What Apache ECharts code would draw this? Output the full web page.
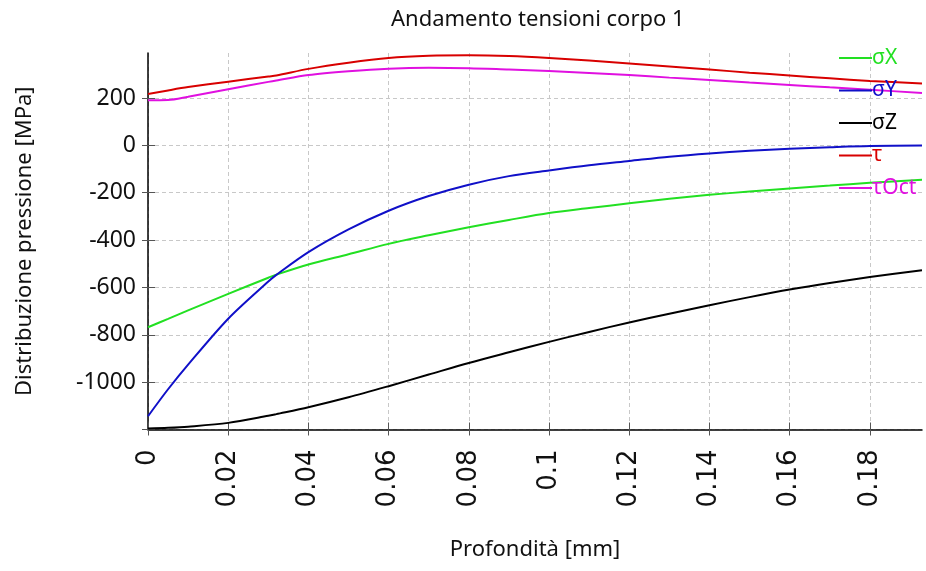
<!DOCTYPE html>
<html>
<head>
<meta charset="utf-8">
<script src="https://cdn.jsdelivr.net/npm/echarts@6/dist/echarts.min.js"></script>
<style>
html,body{margin:0;padding:0;background:#fff;}
#chart{width:926px;height:571px;}
</style>
</head>
<body>
<div id="chart"></div>
<script>
// depth [mm]
const depth = [0, 0.005, 0.01, 0.02, 0.03, 0.032, 0.04, 0.05, 0.06, 0.07, 0.08, 0.09, 0.10, 0.11, 0.12, 0.13, 0.14, 0.15, 0.16, 0.17, 0.18, 0.193];
// stresses [MPa]
const sigmaX = [-768, -733, -697, -627, -559, -546, -503, -460, -416, -380, -346, -315, -286, -265, -245, -226, -209, -195, -182, -170, -158, -145];
const sigmaY = [-1144, -1030, -926, -732, -575, -547, -451, -355, -276, -214, -166, -130, -106, -84, -66, -48, -34, -23, -14, -8, -3, -1];
const sigmaZ = [-1196, -1193, -1188, -1172, -1142, -1135, -1106, -1064, -1017, -968, -919, -874, -830, -788, -748, -711, -675, -641, -609, -581, -556, -527];
const tau    = [217, 232, 246, 269, 291, 295, 323, 349, 369, 378, 380, 377, 369, 358, 346, 333, 320, 307, 295, 283, 272, 261];
const tauOct = [190, 191, 205, 237, 268, 274, 297, 313, 324, 328, 326, 320, 314, 306, 297, 286, 276, 265, 255, 245, 235, 221];

const seriesNames = ['σX', 'σY', 'σZ', 'τ', 'τOct'];
const seriesColors = ['#22e022', '#1010c8', '#000000', '#d80000', '#e010e0'];
const seriesValues = [sigmaX, sigmaY, sigmaZ, tau, tauOct];

const xTicks = [0, 0.02, 0.04, 0.06, 0.08, 0.1, 0.12, 0.14, 0.16, 0.18];
const yTicks = [-1200, -1000, -800, -600, -400, -200, 0, 200];

const FONT = '"Noto Sans", sans-serif';
const chart = echarts.init(document.getElementById('chart'));
const gridLine = {show: true, lineStyle: {color: '#c8c8c8', type: [4, 3], width: 1}};

chart.setOption({
  animation: false,
  backgroundColor: '#fff',
  title: {
    text: 'Andamento tensioni corpo 1',
    left: 386, top: 4,
    textStyle: {fontFamily: FONT, fontSize: 22, fontWeight: 'normal', color: '#111'}
  },
  legend: {
    orient: 'vertical', left: 834, top: 42,
    icon: 'rect', itemWidth: 33, itemHeight: 2, itemGap: 10.5,
    textStyle: {fontFamily: FONT, fontSize: 21, lineHeight: 22, padding: [0, 0, 0, -5]},
    data: seriesNames.map((n, i) => ({name: n, textStyle: {color: seriesColors[i]}}))
  },
  grid: [
    {left: 148, right: 4, top: 53, bottom: 141.5},
    {left: 148, right: 4, top: 98, bottom: 141.5},
    {left: 148, right: 56.1, top: 53, bottom: 141.5}
  ],
  xAxis: [
    {
      gridIndex: 0, type: 'value', min: 0, max: 0.193,
      axisLine: {show: true, onZero: false, lineStyle: {color: '#000', width: 1.5}},
      axisTick: {show: true, customValues: xTicks, length: 6, lineStyle: {color: '#555'}},
      axisLabel: {show: false}, splitLine: {show: false},
      name: 'Profondità [mm]', nameLocation: 'middle', nameGap: 109,
      nameTextStyle: {fontFamily: FONT, fontSize: 22, color: '#111'}
    },
    {gridIndex: 1, type: 'value', min: 0, max: 1, show: false},
    {
      gridIndex: 2, type: 'value', min: 0, max: 0.18, interval: 0.02,
      axisLine: {show: false, onZero: false},
      axisTick: {show: true, inside: true, length: 7, lineStyle: {color: '#555'}},
      axisLabel: {
        rotate: 90, margin: 20, fontFamily: '"DejaVu Sans", sans-serif', fontSize: 26, color: '#111',
        formatter: v => String(+v.toFixed(2))
      },
      splitLine: gridLine
    }
  ],
  yAxis: [
    {
      gridIndex: 0, type: 'value', min: -1200, max: 390,
      axisLine: {show: true, onZero: false, lineStyle: {color: '#000', width: 1.5}},
      axisTick: {show: true, customValues: yTicks, length: 6, lineStyle: {color: '#555'}},
      axisLabel: {show: false}, splitLine: {show: false},
      name: 'Distribuzione pressione [MPa]', nameLocation: 'middle', nameGap: 112,
      nameTextStyle: {fontFamily: FONT, fontSize: 22, color: '#111'}
    },
    {
      gridIndex: 1, type: 'value', min: -1200, max: 200, interval: 200,
      axisLine: {show: false, onZero: false},
      axisTick: {show: true, inside: true, length: 7, lineStyle: {color: '#555'}},
      axisLabel: {
        margin: 12, fontFamily: FONT, fontSize: 23, color: '#111',
        formatter: v => (v === -1200 ? '' : String(v))
      },
      splitLine: gridLine
    },
    {gridIndex: 2, type: 'value', min: 0, max: 1, show: false}
  ],
  series: seriesNames.map((n, i) => ({
    name: n, type: 'line', xAxisIndex: 0, yAxisIndex: 0,
    data: depth.map((d, k) => [d, seriesValues[i][k]]),
    smooth: 0.3, showSymbol: false, symbol: 'none',
    lineStyle: {color: seriesColors[i], width: 2},
    itemStyle: {color: seriesColors[i]}
  }))
});
</script>
</body>
</html>
